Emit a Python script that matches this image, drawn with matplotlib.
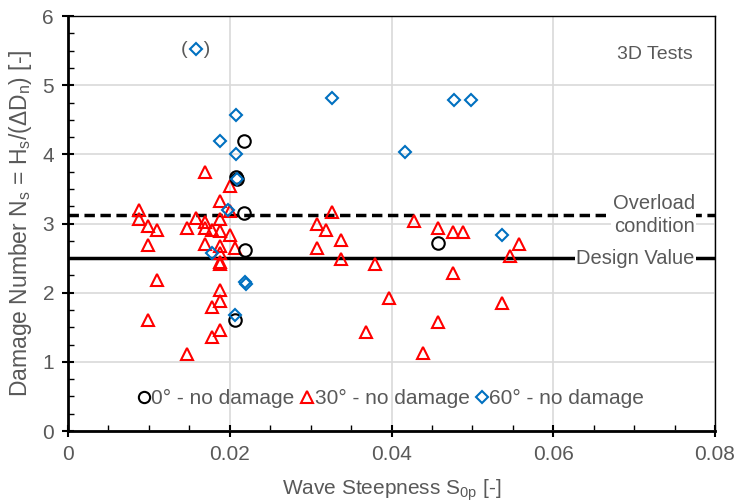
import matplotlib.pyplot as plt
from matplotlib.ticker import MultipleLocator

plt.rcParams['font.family'] = ['Liberation Sans', 'DejaVu Sans']
plt.rcParams['mathtext.fontset'] = 'custom'
plt.rcParams['mathtext.rm'] = 'Liberation Sans'
plt.rcParams['mathtext.it'] = 'Liberation Sans'

GRAY = '#595959'

# 0 deg - no damage
s0_x = [0.0208, 0.0209, 0.0218, 0.0218, 0.0219, 0.0207, 0.0458]
s0_y = [3.68, 3.65, 4.19, 3.15, 2.62, 1.60, 2.72]

# 30 deg - no damage
s30_x = [0.0088, 0.0088, 0.0099, 0.0110, 0.0099, 0.0110, 0.0099, 0.0147,
         0.0147, 0.0158, 0.0169, 0.0169, 0.0178, 0.0169, 0.0169, 0.0188,
         0.0188, 0.0188, 0.0188, 0.0188, 0.0188, 0.0188, 0.0200, 0.0200,
         0.0200, 0.0207, 0.0188, 0.0188, 0.0178, 0.0188, 0.0178,
         0.0327, 0.0308, 0.0319, 0.0338, 0.0308, 0.0338, 0.0379, 0.0397,
         0.0368, 0.0439, 0.0428, 0.0458, 0.0476, 0.0488, 0.0558, 0.0547,
         0.0476, 0.0537, 0.0458]
s30_y = [3.19, 3.07, 2.96, 2.91, 2.69, 2.19, 1.61, 1.11,
         2.93, 3.08, 3.02, 2.93, 2.91, 2.71, 3.74, 3.06,
         2.89, 2.67, 2.57, 2.45, 2.41, 3.33, 3.55, 3.18,
         2.83, 2.64, 2.04, 1.88, 1.79, 1.46, 1.36,
         3.17, 2.99, 2.91, 2.76, 2.65, 2.49, 2.41, 1.92,
         1.43, 1.13, 3.03, 2.93, 2.88, 2.88, 2.71, 2.53,
         2.28, 1.85, 1.58]

# 60 deg - no damage
s60_x = [0.0158, 0.0208, 0.0188, 0.0208, 0.0209, 0.0198, 0.0178, 0.0219,
         0.0220, 0.0207, 0.0327, 0.0477, 0.0498, 0.0417, 0.0537]
s60_y = [5.52, 4.57, 4.19, 4.00, 3.64, 3.20, 2.57, 2.15,
         2.13, 1.68, 4.82, 4.79, 4.79, 4.04, 2.84]

design_value = 2.5
overload_value = 3.125

fig = plt.figure(figsize=(7.36, 5.04), dpi=100)
ax = fig.add_axes([0.0924, 0.1448, 0.8791, 0.8232])

ax.set_xlim(0, 0.08)
ax.set_ylim(0, 6)
ax.xaxis.set_major_locator(MultipleLocator(0.02))
ax.xaxis.set_minor_locator(MultipleLocator(0.005))
ax.yaxis.set_major_locator(MultipleLocator(1))
ax.yaxis.set_minor_locator(MultipleLocator(0.25))
ax.set_xticks([0, 0.02, 0.04, 0.06, 0.08])
ax.set_xticklabels(['0', '0.02', '0.04', '0.06', '0.08'])
ax.grid(True, which='major', color='#D9D9D9', lw=1.2, zorder=0)

ax.tick_params(which='major', direction='inout', length=8, width=1.5,
               labelsize=15, labelcolor=GRAY, pad=6)
ax.tick_params(which='minor', direction='in', length=4, width=1)
for s in ['left', 'bottom']:
    ax.spines[s].set_linewidth(2)
for s in ['top', 'right']:
    ax.spines[s].set_linewidth(1)

ax.axhline(design_value, color='black', lw=2.5, zorder=2)
ax.axhline(overload_value, color='black', lw=2.5, ls=(0, (3, 1.6)), zorder=2)

ax.plot(s0_x, s0_y, 'o', ms=9, mfc='none', mec='black', mew=1.5,
        label='0° - no damage', zorder=4)
ax.plot(s30_x, s30_y, '^', ms=9, mfc='none', mec='red', mew=1.5,
        label='30° - no damage', zorder=3)
ax.plot(s60_x, s60_y, 'D', ms=6.5, mfc='none', mec='#0070C0', mew=1.5,
        label='60° - no damage', zorder=5)

ax.text(s60_x[0], s60_y[0], '(   )', ha='center', va='center',
        fontsize=14, color=GRAY)

ax.text(0.0775, overload_value, 'Overload\ncondition', ha='right', va='center',
        fontsize=14.5, color=GRAY, linespacing=1.3,
        bbox=dict(facecolor='white', edgecolor='none', pad=1), zorder=6)
ax.text(0.0775, design_value, 'Design Value', ha='right', va='center',
        fontsize=14.5, color=GRAY,
        bbox=dict(facecolor='white', edgecolor='none', pad=1), zorder=6)
ax.text(0.0772, 5.45, '3D Tests', ha='right', va='center',
        fontsize=14, color=GRAY)

leg = ax.legend(loc='lower center', bbox_to_anchor=(0.5, 0.035), ncol=3,
                frameon=False, fontsize=15, handlelength=0.5,
                handletextpad=0.1, columnspacing=0.35, markerscale=0.9,
                borderaxespad=0)
for t in leg.get_texts():
    t.set_color(GRAY)

ax.set_xlabel('Wave Steepness S$_{\\mathregular{0p}}$ [-]', fontsize=15,
              color=GRAY, labelpad=10)
ax.set_ylabel('Damage Number N$_{\\mathregular{s}}$ = H$_{\\mathregular{s}}$/(ΔD$_{\\mathregular{n}}$) [-]',
              fontsize=16.5, color=GRAY, labelpad=6)

fig.savefig('out.png', dpi=100)
